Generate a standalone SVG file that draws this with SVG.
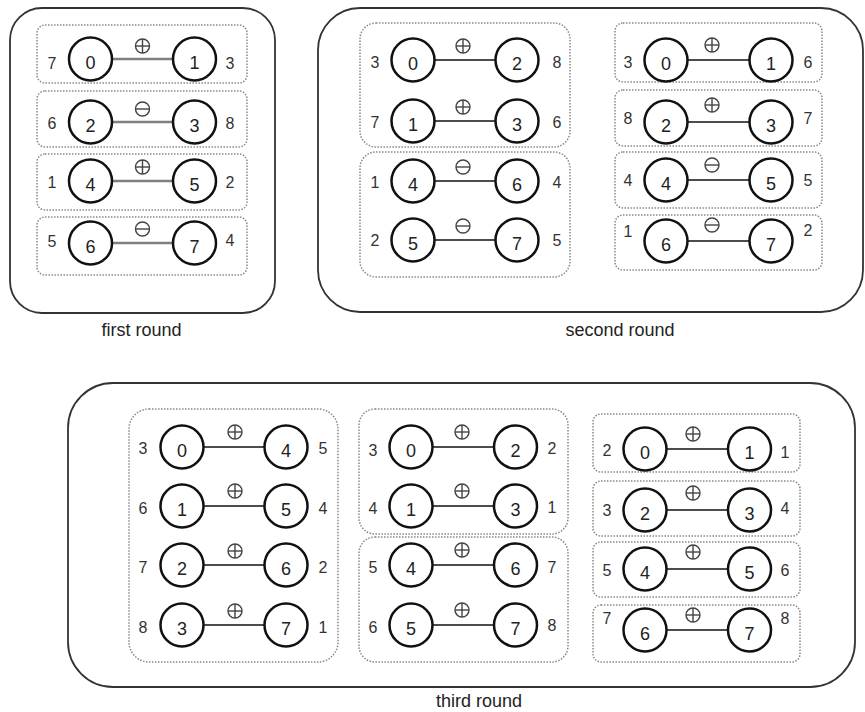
<svg xmlns="http://www.w3.org/2000/svg" xmlns:xlink="http://www.w3.org/1999/xlink" width="865" height="712" viewBox="0 0 865 712">
  <style>
    text { font-family: "Liberation Sans", Arial, sans-serif; fill: #222; text-anchor: middle; }
    .caption { font-size: 18px; }
    .num { font-size: 18px; }
    .lbl { font-size: 16px; fill: #333; }
    .panel { fill: #fff; stroke: #333; stroke-width: 1.8; }
    .grp { fill: none; stroke: #888; stroke-width: 1.5; stroke-dasharray: 1.5 1.5; }
    .node circle { fill: #fff; stroke: #111; stroke-width: 2.5; }
    .edge { stroke: #111; stroke-width: 1.5; }
    .edge.grey { stroke: #808080; stroke-width: 2.5; }
    .op { fill: none; stroke: #444; stroke-width: 1.4; }
  </style>
  <defs>
    <g id="plus" class="op"><circle r="7"/><line x1="-7" y1="0" x2="7" y2="0"/><line x1="0" y1="-7" x2="0" y2="7"/></g>
    <g id="minus" class="op"><circle r="7"/><line x1="-7" y1="0" x2="7" y2="0"/></g>
  </defs>

  <!-- panels -->
  <rect class="panel" x="10" y="8" width="265" height="305" rx="32"/>
  <rect class="panel" x="318" y="8" width="545" height="304" rx="42"/>
  <rect class="panel" x="68" y="383" width="787" height="304" rx="45"/>
  <text class="caption" x="141.5" y="336">first round</text>
  <text class="caption" x="620" y="336">second round</text>
  <text class="caption" x="479" y="707">third round</text>

  <!-- dotted groupings -->
  <g id="groups">
    <rect class="grp" x="37" y="25" width="210" height="58" rx="8"/>
    <rect class="grp" x="37" y="91" width="210" height="56" rx="8"/>
    <rect class="grp" x="37" y="154" width="210" height="56" rx="8"/>
    <rect class="grp" x="37" y="217" width="210" height="58" rx="8"/>

    <rect class="grp" x="360" y="23" width="210" height="124" rx="16"/>
    <rect class="grp" x="360" y="152" width="210" height="125" rx="16"/>

    <rect class="grp" x="615" y="23" width="207" height="59" rx="8"/>
    <rect class="grp" x="615" y="90" width="207" height="56" rx="8"/>
    <rect class="grp" x="615" y="152" width="207" height="56" rx="8"/>
    <rect class="grp" x="615" y="215" width="207" height="55" rx="8"/>

    <rect class="grp" x="129" y="409" width="209" height="253" rx="20"/>

    <rect class="grp" x="359" y="409" width="209" height="125" rx="16"/>
    <rect class="grp" x="359" y="537" width="209" height="125" rx="16"/>

    <rect class="grp" x="593" y="414" width="207" height="58" rx="8"/>
    <rect class="grp" x="593" y="481" width="207" height="55" rx="8"/>
    <rect class="grp" x="593" y="542" width="207" height="55" rx="8"/>
    <rect class="grp" x="593" y="605" width="207" height="57" rx="8"/>
  </g>

  <!-- connectors with their operator marks -->
  <g id="connectors">
    <line class="edge grey" x1="113" y1="59" x2="172" y2="59"/>
    <line class="edge grey" x1="113" y1="122" x2="172" y2="122"/>
    <line class="edge grey" x1="113" y1="181" x2="172" y2="181"/>
    <line class="edge grey" x1="113" y1="243" x2="172" y2="243"/>
    <use href="#plus" x="142.5" y="46"/>
    <use href="#minus" x="142.5" y="109"/>
    <use href="#plus" x="142.5" y="167"/>
    <use href="#minus" x="142.5" y="229"/>

    <line class="edge" x1="435" y1="60" x2="495" y2="60"/>
    <line class="edge" x1="435" y1="121" x2="495" y2="121"/>
    <line class="edge" x1="435" y1="181" x2="495" y2="181"/>
    <line class="edge" x1="435" y1="240" x2="495" y2="240"/>
    <use href="#plus" x="463" y="46"/>
    <use href="#plus" x="463" y="107"/>
    <use href="#minus" x="463" y="167"/>
    <use href="#minus" x="463" y="226"/>

    <line class="edge" x1="688" y1="60" x2="749" y2="60"/>
    <line class="edge" x1="688" y1="122" x2="749" y2="122"/>
    <line class="edge" x1="688" y1="180" x2="749" y2="180"/>
    <line class="edge" x1="688" y1="241" x2="749" y2="241"/>
    <use href="#plus" x="712" y="45"/>
    <use href="#plus" x="712" y="105"/>
    <use href="#minus" x="712" y="165"/>
    <use href="#minus" x="712" y="225"/>

    <line class="edge" x1="204" y1="447" x2="264" y2="447"/>
    <line class="edge" x1="204" y1="506" x2="264" y2="506"/>
    <line class="edge" x1="204" y1="565" x2="264" y2="565"/>
    <line class="edge" x1="204" y1="625" x2="264" y2="625"/>
    <use href="#plus" x="235" y="432"/>
    <use href="#plus" x="235" y="491"/>
    <use href="#plus" x="235" y="551"/>
    <use href="#plus" x="235" y="611"/>

    <line class="edge" x1="433" y1="447" x2="494" y2="447"/>
    <line class="edge" x1="433" y1="506" x2="494" y2="506"/>
    <line class="edge" x1="433" y1="565" x2="494" y2="565"/>
    <line class="edge" x1="433" y1="625" x2="494" y2="625"/>
    <use href="#plus" x="462" y="432"/>
    <use href="#plus" x="462" y="491"/>
    <use href="#plus" x="462" y="550"/>
    <use href="#plus" x="462" y="610"/>

    <line class="edge" x1="667" y1="449" x2="728" y2="449"/>
    <line class="edge" x1="667" y1="510" x2="728" y2="510"/>
    <line class="edge" x1="667" y1="569" x2="728" y2="569"/>
    <line class="edge" x1="667" y1="630" x2="728" y2="630"/>
    <use href="#plus" x="693" y="434"/>
    <use href="#plus" x="693" y="493"/>
    <use href="#plus" x="693" y="552"/>
    <use href="#plus" x="693" y="615"/>
  </g>

  <!-- first round -->
  <g id="r1-n0" class="node"><circle cx="90.5" cy="59" r="21.5"/><text class="num" x="90.5" y="68.5">0</text><text class="lbl" x="52" y="68.5">7</text></g>
  <g id="r1-n1" class="node"><circle cx="194.5" cy="59" r="21.5"/><text class="num" x="194.5" y="68.5">1</text><text class="lbl" x="230" y="68.5">3</text></g>
  <g id="r1-n2" class="node"><circle cx="90.5" cy="122" r="21.5"/><text class="num" x="90.5" y="131.5">2</text><text class="lbl" x="52" y="128.5">6</text></g>
  <g id="r1-n3" class="node"><circle cx="194.5" cy="122" r="21.5"/><text class="num" x="194.5" y="131.5">3</text><text class="lbl" x="230" y="128.5">8</text></g>
  <g id="r1-n4" class="node"><circle cx="90.5" cy="181" r="21.5"/><text class="num" x="90.5" y="190.5">4</text><text class="lbl" x="52" y="188">1</text></g>
  <g id="r1-n5" class="node"><circle cx="194.5" cy="181" r="21.5"/><text class="num" x="194.5" y="190.5">5</text><text class="lbl" x="230" y="188">2</text></g>
  <g id="r1-n6" class="node"><circle cx="90.5" cy="243" r="21.5"/><text class="num" x="90.5" y="252.5">6</text><text class="lbl" x="52" y="246.5">5</text></g>
  <g id="r1-n7" class="node"><circle cx="194.5" cy="243" r="21.5"/><text class="num" x="194.5" y="252.5">7</text><text class="lbl" x="230" y="245.5">4</text></g>

  <!-- second round, left block -->
  <g id="r2-n0" class="node"><circle cx="413" cy="60" r="21.5"/><text class="num" x="413" y="69.5">0</text><text class="lbl" x="375" y="67.5">3</text></g>
  <g id="r2-n2" class="node"><circle cx="517" cy="60" r="21.5"/><text class="num" x="517" y="69.5">2</text><text class="lbl" x="557" y="67.5">8</text></g>
  <g id="r2-n1" class="node"><circle cx="413" cy="121" r="21.5"/><text class="num" x="413" y="130.5">1</text><text class="lbl" x="375" y="127.5">7</text></g>
  <g id="r2-n3" class="node"><circle cx="517" cy="121" r="21.5"/><text class="num" x="517" y="130.5">3</text><text class="lbl" x="557" y="127.5">6</text></g>
  <g id="r2-n4" class="node"><circle cx="413" cy="181" r="21.5"/><text class="num" x="413" y="190.5">4</text><text class="lbl" x="375" y="187.5">1</text></g>
  <g id="r2-n6" class="node"><circle cx="517" cy="181" r="21.5"/><text class="num" x="517" y="190.5">6</text><text class="lbl" x="557" y="187.5">4</text></g>
  <g id="r2-n5" class="node"><circle cx="413" cy="240" r="21.5"/><text class="num" x="413" y="249.5">5</text><text class="lbl" x="375" y="245.5">2</text></g>
  <g id="r2-n7" class="node"><circle cx="517" cy="240" r="21.5"/><text class="num" x="517" y="249.5">7</text><text class="lbl" x="557" y="245.5">5</text></g>

  <!-- second round, right block -->
  <g id="r2b-n0" class="node"><circle cx="666" cy="60" r="21.5"/><text class="num" x="666" y="69.5">0</text><text class="lbl" x="628" y="67.5">3</text></g>
  <g id="r2b-n1" class="node"><circle cx="771" cy="60" r="21.5"/><text class="num" x="771" y="69.5">1</text><text class="lbl" x="808" y="67.5">6</text></g>
  <g id="r2b-n2" class="node"><circle cx="666" cy="122" r="21.5"/><text class="num" x="666" y="131.5">2</text><text class="lbl" x="628" y="123.5">8</text></g>
  <g id="r2b-n3" class="node"><circle cx="771" cy="122" r="21.5"/><text class="num" x="771" y="131.5">3</text><text class="lbl" x="808" y="123.5">7</text></g>
  <g id="r2b-n4" class="node"><circle cx="666" cy="180" r="21.5"/><text class="num" x="666" y="189.5">4</text><text class="lbl" x="628" y="185.5">4</text></g>
  <g id="r2b-n5" class="node"><circle cx="771" cy="180" r="21.5"/><text class="num" x="771" y="189.5">5</text><text class="lbl" x="808" y="185.5">5</text></g>
  <g id="r2b-n6" class="node"><circle cx="666" cy="241" r="21.5"/><text class="num" x="666" y="250.5">6</text><text class="lbl" x="628" y="237">1</text></g>
  <g id="r2b-n7" class="node"><circle cx="771" cy="241" r="21.5"/><text class="num" x="771" y="250.5">7</text><text class="lbl" x="808" y="235.5">2</text></g>

  <!-- third round, left block -->
  <g id="r3-n0" class="node"><circle cx="182" cy="447" r="21.5"/><text class="num" x="182" y="456.5">0</text><text class="lbl" x="143" y="453.5">3</text></g>
  <g id="r3-n4" class="node"><circle cx="286" cy="447" r="21.5"/><text class="num" x="286" y="456.5">4</text><text class="lbl" x="323" y="453.5">5</text></g>
  <g id="r3-n1" class="node"><circle cx="182" cy="506" r="21.5"/><text class="num" x="182" y="515.5">1</text><text class="lbl" x="143" y="513.5">6</text></g>
  <g id="r3-n5" class="node"><circle cx="286" cy="506" r="21.5"/><text class="num" x="286" y="515.5">5</text><text class="lbl" x="323" y="513.5">4</text></g>
  <g id="r3-n2" class="node"><circle cx="182" cy="565" r="21.5"/><text class="num" x="182" y="574.5">2</text><text class="lbl" x="143" y="572.5">7</text></g>
  <g id="r3-n6" class="node"><circle cx="286" cy="565" r="21.5"/><text class="num" x="286" y="574.5">6</text><text class="lbl" x="323" y="572.5">2</text></g>
  <g id="r3-n3" class="node"><circle cx="182" cy="625" r="21.5"/><text class="num" x="182" y="634.5">3</text><text class="lbl" x="143" y="632.5">8</text></g>
  <g id="r3-n7" class="node"><circle cx="286" cy="625" r="21.5"/><text class="num" x="286" y="634.5">7</text><text class="lbl" x="323" y="632.5">1</text></g>

  <!-- third round, middle block -->
  <g id="r3b-n0" class="node"><circle cx="411" cy="447" r="21.5"/><text class="num" x="411" y="456.5">0</text><text class="lbl" x="373" y="455.5">3</text></g>
  <g id="r3b-n2" class="node"><circle cx="515.5" cy="447" r="21.5"/><text class="num" x="515.5" y="456.5">2</text><text class="lbl" x="552" y="453.5">2</text></g>
  <g id="r3b-n1" class="node"><circle cx="411" cy="506" r="21.5"/><text class="num" x="411" y="515.5">1</text><text class="lbl" x="373" y="513.5">4</text></g>
  <g id="r3b-n3" class="node"><circle cx="515.5" cy="506" r="21.5"/><text class="num" x="515.5" y="515.5">3</text><text class="lbl" x="552" y="512.5">1</text></g>
  <g id="r3b-n4" class="node"><circle cx="411" cy="565" r="21.5"/><text class="num" x="411" y="574.5">4</text><text class="lbl" x="373" y="572.5">5</text></g>
  <g id="r3b-n6" class="node"><circle cx="515.5" cy="565" r="21.5"/><text class="num" x="515.5" y="574.5">6</text><text class="lbl" x="552" y="572.5">7</text></g>
  <g id="r3b-n5" class="node"><circle cx="411" cy="625" r="21.5"/><text class="num" x="411" y="634.5">5</text><text class="lbl" x="373" y="632.5">6</text></g>
  <g id="r3b-n7" class="node"><circle cx="515.5" cy="625" r="21.5"/><text class="num" x="515.5" y="634.5">7</text><text class="lbl" x="552" y="630.5">8</text></g>

  <!-- third round, right block -->
  <g id="r3c-n0" class="node"><circle cx="645" cy="449" r="21.5"/><text class="num" x="645" y="458.5">0</text><text class="lbl" x="607" y="455.5">2</text></g>
  <g id="r3c-n1" class="node"><circle cx="749.5" cy="449" r="21.5"/><text class="num" x="749.5" y="458.5">1</text><text class="lbl" x="785" y="457.5">1</text></g>
  <g id="r3c-n2" class="node"><circle cx="645" cy="510" r="21.5"/><text class="num" x="645" y="519.5">2</text><text class="lbl" x="607" y="515.5">3</text></g>
  <g id="r3c-n3" class="node"><circle cx="749.5" cy="510" r="21.5"/><text class="num" x="749.5" y="519.5">3</text><text class="lbl" x="785" y="513.5">4</text></g>
  <g id="r3c-n4" class="node"><circle cx="645" cy="569" r="21.5"/><text class="num" x="645" y="578.5">4</text><text class="lbl" x="607" y="575.5">5</text></g>
  <g id="r3c-n5" class="node"><circle cx="749.5" cy="569" r="21.5"/><text class="num" x="749.5" y="578.5">5</text><text class="lbl" x="785" y="575.5">6</text></g>
  <g id="r3c-n6" class="node"><circle cx="645" cy="630" r="21.5"/><text class="num" x="645" y="639.5">6</text><text class="lbl" x="607" y="623.5">7</text></g>
  <g id="r3c-n7" class="node"><circle cx="749.5" cy="630" r="21.5"/><text class="num" x="749.5" y="639.5">7</text><text class="lbl" x="785" y="623.5">8</text></g>
</svg>
